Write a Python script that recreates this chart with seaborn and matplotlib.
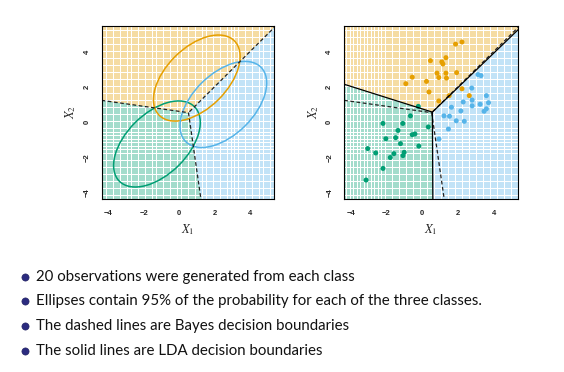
import matplotlib
matplotlib.use("Agg")
import matplotlib.pyplot as plt
from matplotlib.patches import Ellipse
import numpy as np
import pandas as pd
import seaborn as sns

# class names and colours
CLASSES = ["green", "orange", "blue"]
PALETTE = {"green": "#009E73", "orange": "#E69F00", "blue": "#56B4E9"}

# true (Bayes) parameters
BAYES_MEANS = np.array([[-1.25, -1.25], [1.0, 2.5], [2.5, 1.0]])
BAYES_COV = np.array([[1.0, 0.5], [0.5, 1.0]])

# 20 observations per class (right panel)
GREEN_X = [-0.22, -0.66, -2.20, -1.09, -1.36, 0.34, -0.56, -0.41, -1.49, -2.04,
           -1.22, -0.19, -3.06, -2.61, -1.01, -1.08, -1.59, -1.79, -2.20, -3.15]
GREEN_Y = [0.89, 0.35, -0.08, -0.08, -0.48, -0.28, -0.72, -0.68, -0.89, -0.95,
           -1.23, -1.37, -1.51, -1.76, -1.72, -1.91, -1.80, -2.02, -2.64, -3.30]
ORANGE_X = [1.87, 2.23, 0.46, 1.10, 1.16, 1.33, 0.83, 0.93, 1.33, 1.36,
            1.93, -0.56, -0.92, 0.24, 0.38, 0.93, 2.23, 2.64, 1.51]
ORANGE_Y = [4.43, 4.55, 3.49, 3.42, 3.30, 3.66, 2.78, 2.53, 2.78, 2.50,
            2.81, 2.55, 2.18, 2.31, 1.71, 1.20, 1.89, 1.50, 1.50]
BLUE_X = [3.13, 3.30, 2.78, 3.60, 3.72, 3.25, 2.80, 2.80, 2.30, 3.47,
          3.60, 1.64, 2.17, 1.22, 1.53, 1.91, 2.36, 1.47, 0.94]
BLUE_Y = [2.70, 2.64, 1.93, 1.50, 1.10, 1.01, 1.25, 0.92, 1.14, 0.61,
          0.75, 0.84, 0.63, 0.35, 0.33, 0.07, 0.04, -0.40, -0.97]

TICKS = [-4, -2, 0, 2, 4]
XLIM = (-4.37, 5.36)
YLIM = (-4.38, 5.48)

BULLETS = [
    "20 observations were generated from each class",
    "Ellipses contain 95% of the probability for each of the three classes.",
    "The dashed lines are Bayes decision boundaries",
    "The solid lines are LDA decision boundaries",
]

CHI2_95 = 5.991  # 2 dof


def discriminants(pts, means, cov):
    inv = np.linalg.inv(cov)
    lin = pts @ inv @ means.T
    const = 0.5 * np.einsum("ij,jk,ik->i", means, inv, means)
    return lin - const


def boundary_segments(means, cov):
    # pieces of each pairwise line where the pair beats the third class
    inv = np.linalg.inv(cov)
    segs = []
    for i, j in [(0, 1), (0, 2), (1, 2)]:
        a = inv @ (means[i] - means[j])
        b = 0.5 * (means[i] @ inv @ means[i] - means[j] @ inv @ means[j])
        p0 = a * b / (a @ a)
        d = np.array([-a[1], a[0]]) / np.linalg.norm(a)
        t = np.linspace(-30, 30, 6001)
        pts = p0 + t[:, None] * d
        dis = discriminants(pts, means, cov)
        k = 3 - i - j
        keep = dis[:, i] >= dis[:, k]
        segs.append(pts[keep])
    return segs


def draw_background(ax, means, cov):
    gx, gy = np.meshgrid(np.linspace(XLIM[0], XLIM[1], 125),
                         np.linspace(YLIM[0], YLIM[1], 125))
    pts = np.column_stack([gx.ravel(), gy.ravel()])
    cls = np.array(CLASSES)[discriminants(pts, means, cov).argmax(axis=1)]
    bg = pd.DataFrame({"x": pts[:, 0], "y": pts[:, 1], "cls": cls})
    sns.scatterplot(data=bg, x="x", y="y", hue="cls", palette=PALETTE,
                    marker="s", s=0.7, linewidth=0, alpha=0.36,
                    legend=False, ax=ax, rasterized=True)


def style_axes(ax):
    ax.set_xlim(*XLIM)
    ax.set_ylim(*YLIM)
    ax.set_xticks(TICKS)
    ax.set_yticks(TICKS)
    ax.set_xticklabels([str(t).replace("-", "\u2212") for t in TICKS])
    ax.set_yticklabels([str(t).replace("-", "\u2212") for t in TICKS],
                       rotation=90, va="center")
    ax.tick_params(direction="out", length=3, width=0.6, labelsize=5.5, pad=5)
    for lab in ax.get_xticklabels() + ax.get_yticklabels():
        lab.set_fontweight("bold")
        lab.set_family("Liberation Sans")
    for sp in ax.spines.values():
        sp.set_visible(True)
        sp.set_linewidth(0.8)
        sp.set_color("black")
    ax.set_xlabel(r"$X_1$", fontsize=9, labelpad=4)
    ax.set_ylabel(r"$X_2$", fontsize=9, labelpad=4)


sns.set_style("white")
plt.rcParams["mathtext.fontset"] = "stix"
plt.rcParams["font.family"] = ["Lato", "DejaVu Sans"]

fig = plt.figure(figsize=(5.64, 3.72), dpi=100)
ax_l = fig.add_axes([0.1803, 0.465, 0.3055, 0.466])
ax_r = fig.add_axes([0.6105, 0.465, 0.3075, 0.466])

# left panel: Bayes regions, ellipses, Bayes boundaries
draw_background(ax_l, BAYES_MEANS, BAYES_COV)
vals, vecs = np.linalg.eigh(BAYES_COV)
angle = np.degrees(np.arctan2(vecs[1, 1], vecs[0, 1]))
for name, mu in zip(CLASSES, BAYES_MEANS):
    ax_l.add_patch(Ellipse(mu, 2 * np.sqrt(CHI2_95 * vals[1]),
                           2 * np.sqrt(CHI2_95 * vals[0]), angle=angle,
                           fill=False, color=PALETTE[name], lw=1.1))
for seg in boundary_segments(BAYES_MEANS, BAYES_COV):
    ax_l.plot(seg[:, 0], seg[:, 1], color="#222222", ls=(0, (3, 2)), lw=0.9)
style_axes(ax_l)

# right panel: observations and LDA fit
obs = pd.DataFrame({
    "x": GREEN_X + ORANGE_X + BLUE_X,
    "y": GREEN_Y + ORANGE_Y + BLUE_Y,
    "cls": ["green"] * len(GREEN_X) + ["orange"] * len(ORANGE_X) + ["blue"] * len(BLUE_X),
})
lda_means = np.array([obs.loc[obs.cls == c, ["x", "y"]].mean().values for c in CLASSES])
resid = np.vstack([obs.loc[obs.cls == c, ["x", "y"]].values - m
                   for c, m in zip(CLASSES, lda_means)])
lda_cov = resid.T @ resid / (len(obs) - len(CLASSES))

draw_background(ax_r, lda_means, lda_cov)
sns.scatterplot(data=obs, x="x", y="y", hue="cls", palette=PALETTE, s=13,
                linewidth=0, legend=False, ax=ax_r)
for seg in boundary_segments(BAYES_MEANS, BAYES_COV):
    ax_r.plot(seg[:, 0], seg[:, 1], color="#222222", ls=(0, (3, 2)), lw=0.9)
for seg in boundary_segments(lda_means, lda_cov):
    ax_r.plot(seg[:, 0], seg[:, 1], color="black", lw=0.9)
style_axes(ax_r)

# bullet list
ys = [277, 301, 326, 351]
for y, txt in zip(ys, BULLETS):
    fy = 1 - y / 372
    fig.add_artist(plt.Line2D([25.3 / 564], [fy], marker="o", markersize=5.2,
                              color="#2b2b7f", markeredgecolor="#1e1e5a",
                              markeredgewidth=0.4, transform=fig.transFigure))
    fig.text(36 / 564, fy, txt, fontsize=10.8, va="center", ha="left",
             color="#111111")

fig.savefig("out.png", dpi=100)
